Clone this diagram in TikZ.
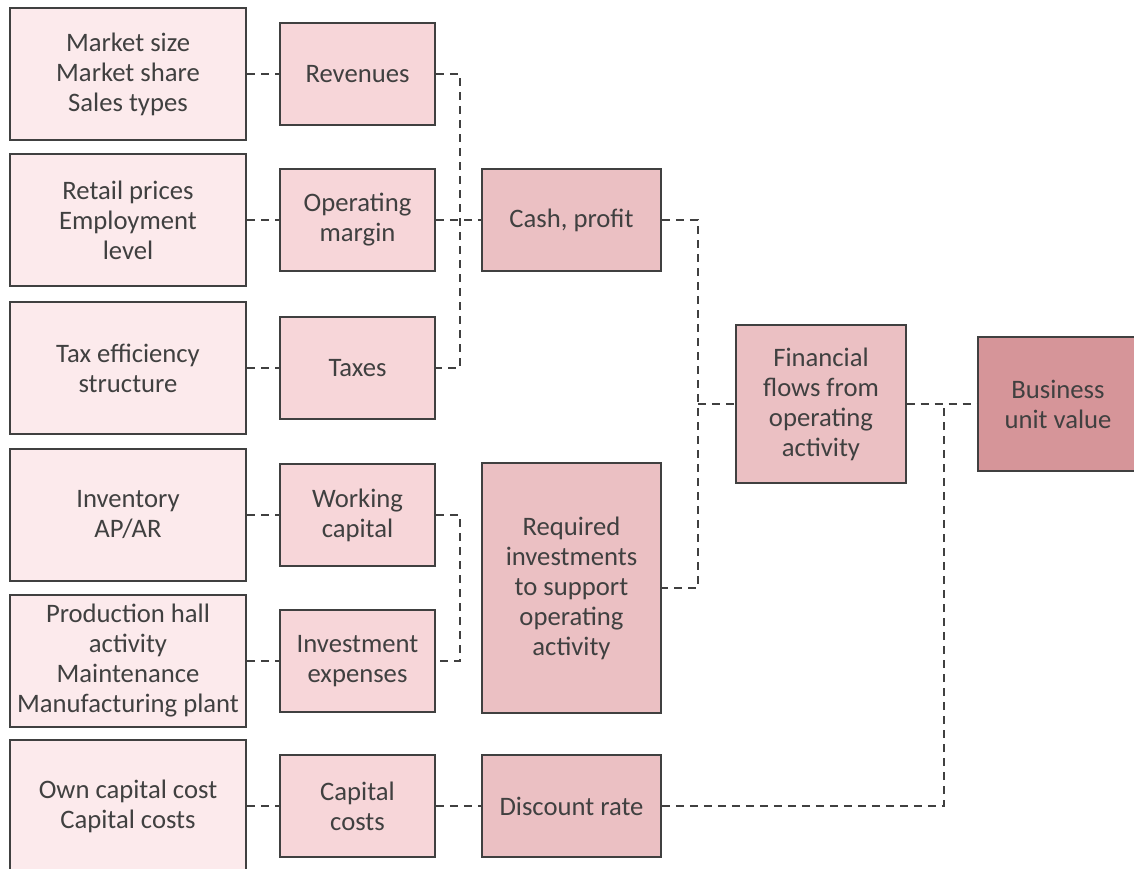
\documentclass[tikz,border=0pt]{standalone}
\usepackage{fontspec}
\setmainfont{Carlito}
\usepackage{tikz}
\usetikzlibrary{positioning}
\usepackage{xcolor}
\definecolor{boxline}{HTML}{404040}
\definecolor{fillA}{HTML}{FCEAEC}
\definecolor{fillB}{HTML}{F7D6D9}
\definecolor{fillC}{HTML}{EBC0C3}
\definecolor{fillE}{HTML}{D69599}

\begin{document}
\begin{tikzpicture}[x=0.75pt,y=-0.75pt,
    box/.style={draw=boxline,line width=1.5pt,align=center,inner sep=0pt,
      text=boxline,font=\fontsize{20}{22.5}\selectfont},
    driver/.style={box,fill=fillA,minimum width=177pt,minimum height=99pt},
    factor/.style={box,fill=fillB,minimum width=116pt,minimum height=76pt},
    flow/.style={box,fill=fillC,minimum width=134pt,minimum height=76pt},
    link/.style={draw=boxline,line width=1.5pt,dash pattern=on 6pt off 4.5pt}]
      \useasboundingbox (0,0) rectangle (1134,868);
      % drivers
      \node[driver] (size) at (128,74) {Market size\\Market share\\Sales types};
      \node[driver] (prices) at (128,220) {Retail prices\\Employment\\level};
      \node[driver] (tax) at (128,368) {Tax efficiency\\structure};
      \node[driver] (stock) at (128,515) {Inventory\\AP/AR};
      \node[driver] (plant) at (128,661) {Production hall\\activity\\Maintenance\\Manufacturing plant};
      \node[driver] (own) at (128,806) {Own capital cost\\Capital costs};
      % factors
      \node[factor] (rev) at (357.5,74) {Revenues};
      \node[factor] (margin) at (357.5,220) {Operating\\margin};
      \node[factor] (taxes) at (357.5,368) {Taxes};
      \node[factor] (wc) at (357.5,515) {Working\\capital};
      \node[factor] (invest) at (357.5,661) {Investment\\expenses};
      \node[factor] (capcost) at (357.5,806) {Capital\\costs};
      % flows
      \node[flow] (cash) at (571.5,220) {Cash, profit};
      \node[flow,minimum height=187pt] (req) at (571.5,588) {Required\\investments\\to support\\operating\\activity};
      \node[flow] (disc) at (571.5,806) {Discount rate};
      \node[flow,minimum width=127pt,minimum height=118pt] (ops) at (821,404) {Financial\\flows from\\operating\\activity};
      \node[box,fill=fillE,minimum width=120pt,minimum height=100pt] (value) at (1058,404) {Business\\unit value};

      \draw[link] (size) -- (rev);
      \draw[link] (prices) -- (margin);
      \draw[link] (tax) -- (taxes);
      \draw[link] (stock) -- (wc);
      \draw[link] (plant) -- (invest);
      \draw[link] (own) -- (capcost);

      \draw[link] (rev.east) -- ++(24,0) |- (taxes.east);
      \draw[link] (margin) -- (cash);
      \draw[link] (wc.east) -- ++(24,0) |- (invest.east);
      \draw[link] (capcost) -- (disc);

      \draw[link] (cash.east) -- ++(36,0) coordinate (split) |- (req.east);
      \draw[link] (split |- ops.west) -- (ops.west);
      \draw[link] (ops) -- (value);
      \coordinate (join) at (944,404);
      \draw[link] (disc.east) -| (join);
\end{tikzpicture}
\end{document}
